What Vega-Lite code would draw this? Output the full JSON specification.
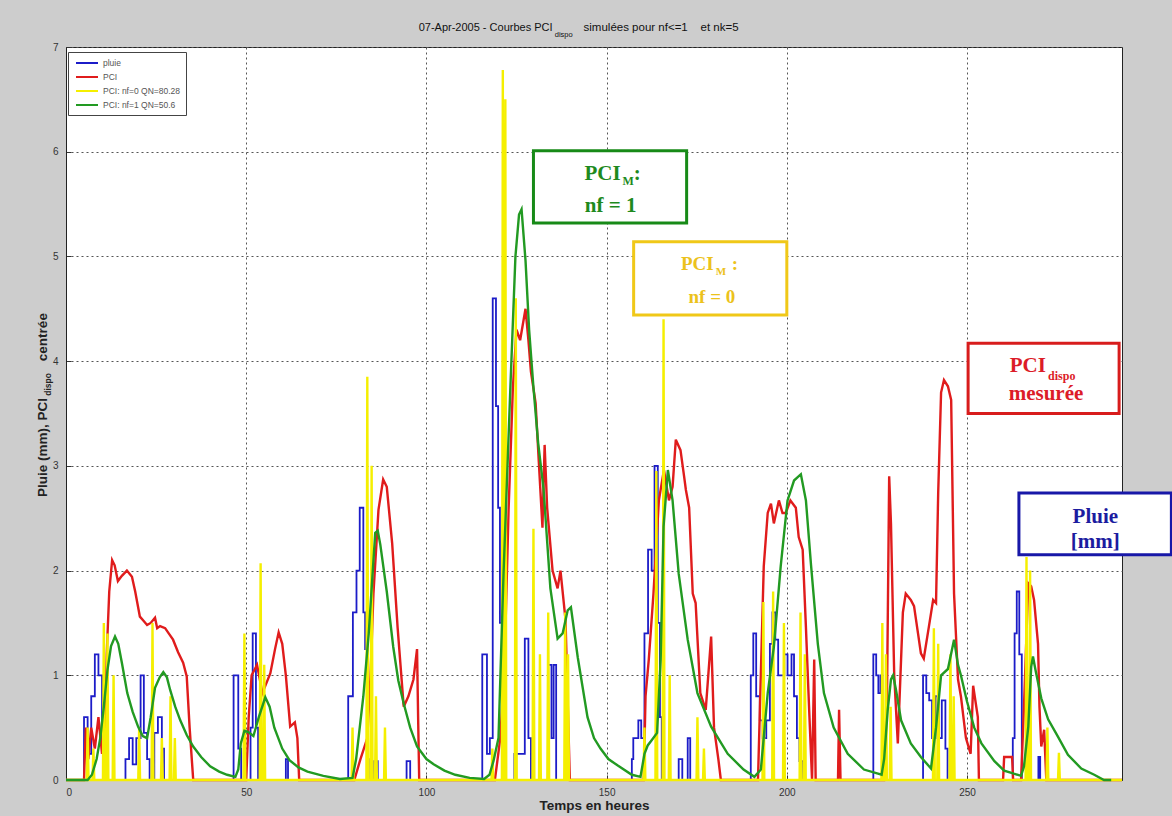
{
"$schema": "https://vega.github.io/schema/vega-lite/v6.json",
"width": 1056, "height": 733,
"autosize": {"type": "none"},
"padding": {"left": 66, "top": 47, "right": 50, "bottom": 36},
"background": "#cdcdcd",
"config": {
  "view": {"fill": "white", "stroke": "#222", "strokeWidth": 1},
  "font": "Liberation Sans"
},
"datasets": {
"pluie": [{"t":0,"v":0},{"t":5,"v":0.6},{"t":6,"v":0.25},{"t":7,"v":0.8},{"t":8,"v":1.2},{"t":9,"v":1.0},{"t":10,"v":0.3},{"t":10.6,"v":0},{"t":16.5,"v":0.2},{"t":17.5,"v":0.4},{"t":18.5,"v":0.15},{"t":19.5,"v":0.4},{"t":20.7,"v":1.0},{"t":21.6,"v":0.45},{"t":22.5,"v":0.2},{"t":23.2,"v":0},{"t":24.5,"v":0.45},{"t":25.5,"v":0.6},{"t":26.6,"v":0.3},{"t":27.2,"v":0},{"t":46.5,"v":1.0},{"t":47.8,"v":0.3},{"t":48.6,"v":0},{"t":51.2,"v":0.5},{"t":51.8,"v":1.4},{"t":52.7,"v":0.5},{"t":53.3,"v":0},{"t":61,"v":0.2},{"t":61.6,"v":0},{"t":78.3,"v":0.8},{"t":79.6,"v":1.6},{"t":80.6,"v":2.0},{"t":81.5,"v":2.6},{"t":82.5,"v":1.6},{"t":83,"v":1.25},{"t":83.5,"v":0.2},{"t":84,"v":0},{"t":85.5,"v":0.18},{"t":86.5,"v":0},{"t":94.5,"v":0.18},{"t":95.5,"v":0},{"t":115.5,"v":1.2},{"t":116.8,"v":0.25},{"t":117.6,"v":0.4},{"t":118.4,"v":4.6},{"t":119.3,"v":3.57},{"t":119.9,"v":2.6},{"t":120.4,"v":1.5},{"t":121,"v":0.2},{"t":122,"v":0},{"t":124.4,"v":0.25},{"t":126,"v":0.25},{"t":127.3,"v":1.35},{"t":128.3,"v":0.4},{"t":129,"v":0},{"t":133.8,"v":1.1},{"t":134.7,"v":0.4},{"t":135.3,"v":1.1},{"t":136,"v":0},{"t":157,"v":0.2},{"t":157.4,"v":0.4},{"t":158.8,"v":0.57},{"t":159.6,"v":0.4},{"t":160.5,"v":1.4},{"t":161.5,"v":2.2},{"t":162.5,"v":2.0},{"t":163.3,"v":3.0},{"t":164.2,"v":1.5},{"t":164.8,"v":0.6},{"t":165.3,"v":0},{"t":170,"v":0.2},{"t":171,"v":0},{"t":172.5,"v":0.4},{"t":173.2,"v":0},{"t":190,"v":1.0},{"t":190.7,"v":1.4},{"t":191.5,"v":0.8},{"t":192.5,"v":0.57},{"t":193.3,"v":0.4},{"t":194.3,"v":0.57},{"t":195.3,"v":1.3},{"t":196,"v":1.6},{"t":196.8,"v":1.34},{"t":197.6,"v":1.0},{"t":199.3,"v":1.2},{"t":200.2,"v":1.0},{"t":201.3,"v":1.2},{"t":202,"v":0.8},{"t":202.8,"v":0.4},{"t":203.5,"v":0.18},{"t":204.5,"v":0},{"t":224,"v":1.2},{"t":224.8,"v":1.0},{"t":225.4,"v":0.83},{"t":226,"v":1.0},{"t":226.5,"v":0},{"t":237.8,"v":1.0},{"t":238.7,"v":0.83},{"t":239.5,"v":0.76},{"t":240.3,"v":0.4},{"t":241.3,"v":0.8},{"t":242.2,"v":0.4},{"t":243,"v":0.76},{"t":244,"v":0.3},{"t":244.6,"v":0},{"t":262.7,"v":0.4},{"t":263.2,"v":1.4},{"t":263.8,"v":1.8},{"t":264.5,"v":1.2},{"t":265.2,"v":0},{"t":269.8,"v":0.22},{"t":270.3,"v":0},{"t":293,"v":0}],
"pci": [{"t":0,"v":0},{"t":5,"v":0},{"t":5.5,"v":0.5},{"t":6.2,"v":0.2},{"t":7,"v":0.5},{"t":8,"v":0.3},{"t":9,"v":0.6},{"t":10,"v":0.25},{"t":10.8,"v":0.4},{"t":11.3,"v":1.2},{"t":12,"v":1.8},{"t":12.8,"v":2.1},{"t":13.5,"v":2.05},{"t":14.4,"v":1.9},{"t":15.5,"v":1.95},{"t":16.9,"v":2.0},{"t":18.3,"v":1.94},{"t":19.2,"v":1.8},{"t":20.5,"v":1.56},{"t":21.5,"v":1.52},{"t":22.5,"v":1.48},{"t":23.5,"v":1.5},{"t":24.7,"v":1.55},{"t":25.3,"v":1.45},{"t":26.1,"v":1.47},{"t":27.5,"v":1.45},{"t":28.5,"v":1.4},{"t":29.7,"v":1.34},{"t":31.1,"v":1.22},{"t":32.5,"v":1.12},{"t":33.5,"v":0.99},{"t":34.3,"v":0.5},{"t":35.3,"v":0},{"t":50,"v":0},{"t":50.7,"v":0.6},{"t":51.5,"v":1.0},{"t":53,"v":1.1},{"t":54.5,"v":0.83},{"t":56.7,"v":1.02},{"t":58,"v":1.25},{"t":59,"v":1.41},{"t":60,"v":1.3},{"t":61,"v":1.0},{"t":62.2,"v":0.51},{"t":63.5,"v":0.55},{"t":64.2,"v":0.4},{"t":64.7,"v":0},{"t":80,"v":0},{"t":81.7,"v":0.2},{"t":83.6,"v":0.4},{"t":84.5,"v":1.0},{"t":85.3,"v":1.78},{"t":86.7,"v":2.58},{"t":88,"v":2.87},{"t":89,"v":2.8},{"t":90.5,"v":2.26},{"t":92,"v":1.46},{"t":93.7,"v":0.7},{"t":95,"v":0.8},{"t":96.4,"v":0.96},{"t":97.4,"v":1.25},{"t":97.7,"v":0.6},{"t":98,"v":0},{"t":119,"v":0},{"t":120.5,"v":0.4},{"t":121.5,"v":1.0},{"t":122,"v":1.53},{"t":122.8,"v":2.58},{"t":124,"v":3.75},{"t":125,"v":4.3},{"t":126,"v":4.2},{"t":127.5,"v":4.5},{"t":128.3,"v":4.2},{"t":129,"v":3.9},{"t":130.3,"v":3.6},{"t":131.2,"v":3.03},{"t":132.2,"v":2.41},{"t":132.8,"v":3.2},{"t":133.5,"v":2.6},{"t":135,"v":2.0},{"t":136.4,"v":1.83},{"t":137.2,"v":2.0},{"t":138.6,"v":1.53},{"t":139.4,"v":0.5},{"t":139.8,"v":0},{"t":160.3,"v":0},{"t":160.8,"v":0.8},{"t":161.7,"v":1.15},{"t":163,"v":1.78},{"t":164.5,"v":2.67},{"t":165.9,"v":2.96},{"t":167.3,"v":2.67},{"t":168.3,"v":2.8},{"t":169.2,"v":3.25},{"t":170.5,"v":3.15},{"t":171.5,"v":2.9},{"t":172,"v":2.77},{"t":172.9,"v":2.6},{"t":173.9,"v":1.78},{"t":174.7,"v":1.69},{"t":176,"v":0.83},{"t":177.5,"v":0.67},{"t":179,"v":1.37},{"t":179.8,"v":0.5},{"t":181,"v":0.2},{"t":181.7,"v":0},{"t":192,"v":0},{"t":193.6,"v":2.04},{"t":194.7,"v":2.55},{"t":195.6,"v":2.64},{"t":196.4,"v":2.45},{"t":197.8,"v":2.67},{"t":198.8,"v":2.55},{"t":199.7,"v":2.55},{"t":201,"v":2.67},{"t":202.5,"v":2.6},{"t":203.3,"v":2.32},{"t":204.4,"v":2.2},{"t":205.3,"v":1.46},{"t":206.2,"v":0.67},{"t":207,"v":0},{"t":207.6,"v":1.15},{"t":208,"v":0},{"t":214.2,"v":0},{"t":214.5,"v":0.67},{"t":214.9,"v":0},{"t":227,"v":0},{"t":227.8,"v":0.8},{"t":228.4,"v":2.9},{"t":228.9,"v":2.45},{"t":229.8,"v":1.0},{"t":230.8,"v":0.35},{"t":231.7,"v":1.15},{"t":232.2,"v":1.6},{"t":233,"v":1.78},{"t":234.4,"v":1.72},{"t":235.3,"v":1.66},{"t":236.4,"v":1.4},{"t":237.2,"v":1.21},{"t":238,"v":1.16},{"t":239.4,"v":1.46},{"t":240.6,"v":1.72},{"t":241.4,"v":1.69},{"t":242,"v":2.74},{"t":242.8,"v":3.7},{"t":243.6,"v":3.82},{"t":244.7,"v":3.76},{"t":245.6,"v":3.63},{"t":246.4,"v":1.78},{"t":247.5,"v":0.96},{"t":248.3,"v":0.8},{"t":249.7,"v":0.4},{"t":251,"v":0.25},{"t":251.7,"v":0.9},{"t":253,"v":0.6},{"t":253.3,"v":0},{"t":260,"v":0},{"t":260.3,"v":0.22},{"t":262.5,"v":0.22},{"t":262.8,"v":0},{"t":265,"v":0},{"t":265.8,"v":0.7},{"t":267,"v":1.88},{"t":267.8,"v":1.85},{"t":268.6,"v":1.72},{"t":269.7,"v":1.3},{"t":270.1,"v":0.7},{"t":270.6,"v":0.32},{"t":271.4,"v":0.48},{"t":272,"v":0},{"t":293,"v":0}],
"nf0": [{"t":0,"v":0},{"t":5.75,"v":0},{"t":6,"v":0.5},{"t":6.25,"v":0},{"t":7.35,"v":0},{"t":7.6,"v":0.3},{"t":7.85,"v":0},{"t":10.25,"v":0},{"t":10.5,"v":1.5},{"t":10.75,"v":0},{"t":11.25,"v":0},{"t":11.5,"v":1.4},{"t":11.75,"v":0},{"t":12.95,"v":0},{"t":13.2,"v":1.0},{"t":13.45,"v":0},{"t":20.05,"v":0},{"t":20.3,"v":0.5},{"t":20.55,"v":0},{"t":23.75,"v":0},{"t":24,"v":1.5},{"t":24.25,"v":0},{"t":26.35,"v":0},{"t":26.6,"v":0.4},{"t":26.85,"v":0},{"t":28.75,"v":0},{"t":29,"v":0.8},{"t":29.25,"v":0},{"t":29.95,"v":0},{"t":30.2,"v":0.4},{"t":30.45,"v":0},{"t":49.25,"v":0},{"t":49.5,"v":1.4},{"t":49.75,"v":0},{"t":53.75,"v":0},{"t":54,"v":2.07},{"t":54.25,"v":0},{"t":54.75,"v":0},{"t":55,"v":1.1},{"t":55.25,"v":0},{"t":79.25,"v":0},{"t":79.5,"v":0.5},{"t":79.75,"v":0},{"t":83.35,"v":0},{"t":83.6,"v":3.85},{"t":83.85,"v":0},{"t":84.55,"v":0},{"t":84.8,"v":3.0},{"t":85.05,"v":0},{"t":85.75,"v":0},{"t":86,"v":0.8},{"t":86.25,"v":0},{"t":88.25,"v":0},{"t":88.5,"v":0.5},{"t":88.75,"v":0},{"t":118.05,"v":0},{"t":118.3,"v":0.3},{"t":118.55,"v":0},{"t":120.95,"v":0},{"t":121.2,"v":6.78},{"t":121.45,"v":0},{"t":121.65,"v":0},{"t":121.9,"v":6.5},{"t":122.15,"v":0},{"t":124.55,"v":0},{"t":124.8,"v":4.6},{"t":125.05,"v":0},{"t":129.45,"v":0},{"t":129.7,"v":2.4},{"t":129.95,"v":0},{"t":131.25,"v":0},{"t":131.5,"v":1.2},{"t":131.75,"v":0},{"t":133.55,"v":0},{"t":133.8,"v":1.6},{"t":134.05,"v":0},{"t":138.25,"v":0},{"t":138.5,"v":1.6},{"t":138.75,"v":0},{"t":139.05,"v":0},{"t":139.3,"v":1.2},{"t":139.55,"v":0},{"t":160.25,"v":0},{"t":160.5,"v":0.5},{"t":160.75,"v":0},{"t":163.55,"v":0},{"t":163.8,"v":2.95},{"t":164.05,"v":0},{"t":165.55,"v":0},{"t":165.8,"v":4.4},{"t":166.05,"v":0},{"t":167.25,"v":0},{"t":167.5,"v":1.0},{"t":167.75,"v":0},{"t":174.95,"v":0},{"t":175.2,"v":0.6},{"t":175.45,"v":0},{"t":176.75,"v":0},{"t":177,"v":0.3},{"t":177.25,"v":0},{"t":193.25,"v":0},{"t":193.5,"v":1.7},{"t":193.75,"v":0},{"t":195.95,"v":0},{"t":196.2,"v":1.8},{"t":196.45,"v":0},{"t":198.95,"v":0},{"t":199.2,"v":1.5},{"t":199.45,"v":0},{"t":203.55,"v":0},{"t":203.8,"v":1.6},{"t":204.05,"v":0},{"t":204.75,"v":0},{"t":205,"v":1.2},{"t":205.25,"v":0},{"t":226.25,"v":0},{"t":226.5,"v":1.5},{"t":226.75,"v":0},{"t":227.25,"v":0},{"t":227.5,"v":1.2},{"t":227.75,"v":0},{"t":228.55,"v":0},{"t":228.8,"v":0.7},{"t":229.05,"v":0},{"t":240.55,"v":0},{"t":240.8,"v":1.45},{"t":241.05,"v":0},{"t":241.75,"v":0},{"t":242,"v":1.3},{"t":242.25,"v":0},{"t":245.15,"v":0},{"t":245.4,"v":1.2},{"t":245.65,"v":0},{"t":246.05,"v":0},{"t":246.3,"v":0.8},{"t":246.55,"v":0},{"t":266.25,"v":0},{"t":266.5,"v":2.13},{"t":266.75,"v":0},{"t":267.25,"v":0},{"t":267.5,"v":2.0},{"t":267.75,"v":0},{"t":272.05,"v":0},{"t":272.3,"v":0.5},{"t":272.55,"v":0},{"t":275.25,"v":0},{"t":275.5,"v":0.26},{"t":275.75,"v":0},{"t":293,"v":0}],
"nf1": [{"t":0,"v":0},{"t":6,"v":0},{"t":7.2,"v":0.05},{"t":8.5,"v":0.2},{"t":9.5,"v":0.4},{"t":10.5,"v":0.7},{"t":11.5,"v":1.05},{"t":12.5,"v":1.28},{"t":13.6,"v":1.37},{"t":14.5,"v":1.3},{"t":15.5,"v":1.12},{"t":17,"v":0.83},{"t":18.5,"v":0.65},{"t":20,"v":0.51},{"t":21.3,"v":0.42},{"t":22.5,"v":0.4},{"t":23.5,"v":0.6},{"t":24.7,"v":0.88},{"t":26,"v":0.98},{"t":27,"v":1.03},{"t":28,"v":0.98},{"t":28.9,"v":0.86},{"t":30.3,"v":0.7},{"t":31.7,"v":0.57},{"t":33.5,"v":0.43},{"t":35.3,"v":0.32},{"t":37.5,"v":0.22},{"t":40,"v":0.13},{"t":42.5,"v":0.08},{"t":44.7,"v":0.05},{"t":47,"v":0.03},{"t":47.8,"v":0.1},{"t":48.5,"v":0.35},{"t":49.5,"v":0.47},{"t":50.5,"v":0.46},{"t":52,"v":0.42},{"t":53.5,"v":0.6},{"t":55.3,"v":0.79},{"t":56.5,"v":0.7},{"t":57.8,"v":0.5},{"t":60,"v":0.3},{"t":62,"v":0.19},{"t":64.5,"v":0.12},{"t":67,"v":0.08},{"t":71.4,"v":0.04},{"t":76,"v":0.01},{"t":79.5,"v":0.02},{"t":80.5,"v":0.2},{"t":82.5,"v":0.8},{"t":84,"v":1.4},{"t":85.8,"v":2.36},{"t":86.5,"v":2.38},{"t":87.2,"v":2.25},{"t":89,"v":1.8},{"t":90.8,"v":1.27},{"t":92.2,"v":0.95},{"t":93.7,"v":0.73},{"t":95.5,"v":0.5},{"t":97.4,"v":0.32},{"t":100,"v":0.2},{"t":102,"v":0.15},{"t":105,"v":0.09},{"t":108,"v":0.05},{"t":112,"v":0.02},{"t":116,"v":0.01},{"t":117.5,"v":0.05},{"t":118.6,"v":0.18},{"t":120,"v":0.4},{"t":121.4,"v":1.97},{"t":123.3,"v":3.75},{"t":124.7,"v":5.0},{"t":125.7,"v":5.4},{"t":126.4,"v":5.45},{"t":127.5,"v":4.96},{"t":128.5,"v":4.3},{"t":129.7,"v":3.75},{"t":131,"v":3.22},{"t":132.5,"v":2.78},{"t":134.4,"v":1.83},{"t":136.4,"v":1.35},{"t":137.8,"v":1.4},{"t":139.2,"v":1.62},{"t":140.1,"v":1.65},{"t":142,"v":1.17},{"t":144.7,"v":0.6},{"t":146.5,"v":0.4},{"t":148.3,"v":0.3},{"t":150.5,"v":0.2},{"t":153,"v":0.14},{"t":157,"v":0.05},{"t":159.4,"v":0.03},{"t":160.5,"v":0.25},{"t":161.4,"v":0.33},{"t":162.5,"v":0.38},{"t":164,"v":0.45},{"t":165,"v":1.15},{"t":165.8,"v":2.42},{"t":167,"v":2.96},{"t":168.3,"v":2.67},{"t":170,"v":1.97},{"t":172.5,"v":1.34},{"t":175.2,"v":0.83},{"t":179,"v":0.51},{"t":183.6,"v":0.25},{"t":188,"v":0.1},{"t":191,"v":0.03},{"t":192.8,"v":0.1},{"t":194.7,"v":0.83},{"t":196.4,"v":1.27},{"t":198.3,"v":2.04},{"t":200.2,"v":2.67},{"t":202,"v":2.86},{"t":203.9,"v":2.92},{"t":205.3,"v":2.67},{"t":206.7,"v":2.06},{"t":208.6,"v":1.3},{"t":210.3,"v":0.83},{"t":213,"v":0.5},{"t":216.9,"v":0.25},{"t":221.4,"v":0.1},{"t":225.3,"v":0.06},{"t":226.3,"v":0.05},{"t":227,"v":0.2},{"t":228,"v":0.67},{"t":228.9,"v":0.96},{"t":229.5,"v":1.0},{"t":230.3,"v":0.86},{"t":231.7,"v":0.57},{"t":234.4,"v":0.35},{"t":237.2,"v":0.22},{"t":240,"v":0.11},{"t":241.4,"v":0.5},{"t":242.8,"v":1.0},{"t":244.7,"v":1.06},{"t":246.4,"v":1.34},{"t":247.5,"v":1.1},{"t":248.3,"v":1.0},{"t":250,"v":0.75},{"t":252,"v":0.5},{"t":254,"v":0.35},{"t":257.6,"v":0.18},{"t":260.3,"v":0.09},{"t":263,"v":0.06},{"t":265,"v":0.04},{"t":265.8,"v":0.13},{"t":267,"v":0.51},{"t":267.8,"v":1.08},{"t":268.3,"v":1.18},{"t":269,"v":1.05},{"t":270.6,"v":0.78},{"t":272.5,"v":0.58},{"t":275.3,"v":0.41},{"t":278,"v":0.24},{"t":281.7,"v":0.11},{"t":285.3,"v":0.05},{"t":288,"v":0.0},{"t":290,"v":0}]
},
"layer": [
  {"data": {"name": "pluie"}, "mark": {"type": "line", "interpolate": "step-after", "strokeWidth": 1.8},
   "encoding": {
     "x": {"field": "t", "type": "quantitative", "title": "Temps en heures", "scale": {"domain": [0, 293], "nice": false, "zero": false},
        "axis": {"values": [0,50,100,150,200,250], "format": "d", "grid": true, "gridDash": [2,3], "gridColor": "#555", "tickSize": -5, "tickColor": "#333", "domainColor": "#222", "labelFontSize": 10, "labelColor": "#333", "labelPadding": 12, "titleFontSize": 13.5, "titleFontWeight": "bold", "titleColor": "#222", "titlePadding": 1}},
     "y": {"field": "v", "type": "quantitative", "title": null, "scale": {"domain": [0, 7], "nice": false},
        "axis": {"values": [0,1,2,3,4,5,6,7], "format": "d", "grid": true, "gridDash": [2,3], "gridColor": "#555", "tickSize": -5, "tickColor": "#333", "domainColor": "#222", "labelFontSize": 10, "labelColor": "#333", "labelPadding": 13}},
     "color": {"datum": "pluie", "type": "nominal",
     "scale": {"domain": ["pluie", "PCI", "PCI: nf=0 QN=80.28", "PCI: nf=1 QN=50.6"], "range": ["#1c1cc8", "#e01c1c", "#f5ef00", "#229a22"]},
     "legend": {"title": null, "orient": "none", "legendX": 2, "legendY": 5, "fillColor": "white", "strokeColor": "#444", "padding": 5, "symbolType": "M-2.2,0H2.2", "symbolSize": 100, "symbolStrokeWidth": 2, "symbolOffset": 8, "labelFontSize": 8.5, "labelColor": "#555", "rowPadding": 3, "labelOffset": 10}}}},
  {"data": {"name": "pci"}, "mark": {"type": "line", "strokeWidth": 2.4},
   "encoding": {"x": {"field": "t", "type": "quantitative", "title": "Temps en heures", "scale": {"domain": [0, 293], "nice": false, "zero": false}},
                "y": {"field": "v", "type": "quantitative", "title": null, "scale": {"domain": [0, 7], "nice": false}},
                "color": {"datum": "PCI", "type": "nominal"}}},
  {"data": {"name": "nf0"}, "mark": {"type": "line", "strokeWidth": 2.4},
   "encoding": {"x": {"field": "t", "type": "quantitative", "title": "Temps en heures", "scale": {"domain": [0, 293], "nice": false, "zero": false}},
                "y": {"field": "v", "type": "quantitative", "title": null, "scale": {"domain": [0, 7], "nice": false}},
                "color": {"datum": "PCI: nf=0 QN=80.28", "type": "nominal"}}},
  {"data": {"name": "nf1"}, "mark": {"type": "line", "strokeWidth": 2.4},
   "encoding": {"x": {"field": "t", "type": "quantitative", "title": "Temps en heures", "scale": {"domain": [0, 293], "nice": false, "zero": false}},
                "y": {"field": "v", "type": "quantitative", "title": null, "scale": {"domain": [0, 7], "nice": false}},
                "color": {"datum": "PCI: nf=1 QN=50.6", "type": "nominal"}}},

  {"data": {"values": [{}]}, "mark": {"type": "rect", "fill": "white", "stroke": "#178a17", "strokeWidth": 3, "clip": false},
   "encoding": {"x": {"datum": 129.7}, "x2": {"datum": 172.2}, "y": {"datum": 6.01}, "y2": {"datum": 5.32}}},
  {"data": {"values": [{}]}, "mark": {"type": "rect", "fill": "white", "stroke": "#f0c818", "strokeWidth": 3, "clip": false},
   "encoding": {"x": {"datum": 157.5}, "x2": {"datum": 200}, "y": {"datum": 5.14}, "y2": {"datum": 4.44}}},
  {"data": {"values": [{}]}, "mark": {"type": "rect", "fill": "white", "stroke": "#d81c1c", "strokeWidth": 3, "clip": false},
   "encoding": {"x": {"datum": 250.3}, "x2": {"datum": 292.2}, "y": {"datum": 4.17}, "y2": {"datum": 3.5}}},
  {"data": {"values": [{}]}, "mark": {"type": "rect", "fill": "white", "stroke": "#1818a8", "strokeWidth": 3, "clip": false},
   "encoding": {"x": {"datum": 264.4}, "x2": {"datum": 306.7}, "y": {"datum": 2.74}, "y2": {"datum": 2.15}}},

  {"data": {"values": [{}]}, "mark": {"type": "text", "text": "PCI", "align": "right", "baseline": "alphabetic", "font": "Liberation Serif", "fontWeight": "bold", "fontSize": 21, "color": "#1e8a1e"},
   "encoding": {"x": {"datum": 153.9}, "y": {"datum": 5.731}}},
  {"data": {"values": [{}]}, "mark": {"type": "text", "text": "M", "align": "left", "baseline": "alphabetic", "font": "Liberation Serif", "fontWeight": "bold", "fontSize": 12, "color": "#1e8a1e"},
   "encoding": {"x": {"datum": 154.4}, "y": {"datum": 5.683}}},
  {"data": {"values": [{}]}, "mark": {"type": "text", "text": ":", "align": "left", "baseline": "alphabetic", "font": "Liberation Serif", "fontWeight": "bold", "fontSize": 21, "color": "#1e8a1e"},
   "encoding": {"x": {"datum": 157.5}, "y": {"datum": 5.731}}},
  {"data": {"values": [{}]}, "mark": {"type": "text", "text": "nf = 1", "align": "center", "baseline": "alphabetic", "font": "Liberation Serif", "fontWeight": "bold", "fontSize": 21, "color": "#1e8a1e"},
   "encoding": {"x": {"datum": 151.1}, "y": {"datum": 5.425}}},

  {"data": {"values": [{}]}, "mark": {"type": "text", "text": "PCI", "align": "right", "baseline": "alphabetic", "font": "Liberation Serif", "fontWeight": "bold", "fontSize": 19, "color": "#ecc21c"},
   "encoding": {"x": {"datum": 179.7}, "y": {"datum": 4.871}}},
  {"data": {"values": [{}]}, "mark": {"type": "text", "text": "M", "align": "left", "baseline": "alphabetic", "font": "Liberation Serif", "fontWeight": "bold", "fontSize": 11, "color": "#ecc21c"},
   "encoding": {"x": {"datum": 180.3}, "y": {"datum": 4.823}}},
  {"data": {"values": [{}]}, "mark": {"type": "text", "text": ":", "align": "left", "baseline": "alphabetic", "font": "Liberation Serif", "fontWeight": "bold", "fontSize": 19, "color": "#ecc21c"},
   "encoding": {"x": {"datum": 184.7}, "y": {"datum": 4.871}}},
  {"data": {"values": [{}]}, "mark": {"type": "text", "text": "nf = 0", "align": "center", "baseline": "alphabetic", "font": "Liberation Serif", "fontWeight": "bold", "fontSize": 19, "color": "#ecc21c"},
   "encoding": {"x": {"datum": 179.2}, "y": {"datum": 4.556}}},

  {"data": {"values": [{}]}, "mark": {"type": "text", "text": "PCI", "align": "right", "baseline": "alphabetic", "font": "Liberation Serif", "fontWeight": "bold", "fontSize": 21, "color": "#dc1c28"},
   "encoding": {"x": {"datum": 271.9}, "y": {"datum": 3.897}}},
  {"data": {"values": [{}]}, "mark": {"type": "text", "text": "dispo", "align": "left", "baseline": "alphabetic", "font": "Liberation Serif", "fontWeight": "bold", "fontSize": 12, "color": "#dc1c28"},
   "encoding": {"x": {"datum": 272.5}, "y": {"datum": 3.82}}},
  {"data": {"values": [{}]}, "mark": {"type": "text", "text": "mesurée", "align": "center", "baseline": "alphabetic", "font": "Liberation Serif", "fontWeight": "bold", "fontSize": 21, "color": "#dc1c28"},
   "encoding": {"x": {"datum": 271.9}, "y": {"datum": 3.629}}},

  {"data": {"values": [{}]}, "mark": {"type": "text", "text": "Pluie", "align": "center", "baseline": "alphabetic", "font": "Liberation Serif", "fontWeight": "bold", "fontSize": 21, "color": "#1c1ca0"},
   "encoding": {"x": {"datum": 285.6}, "y": {"datum": 2.455}}},
  {"data": {"values": [{}]}, "mark": {"type": "text", "text": "[mm]", "align": "center", "baseline": "alphabetic", "font": "Liberation Serif", "fontWeight": "bold", "fontSize": 21, "color": "#1c1ca0"},
   "encoding": {"x": {"datum": 285.6}, "y": {"datum": 2.216}}},

  {"data": {"values": [{}]}, "mark": {"type": "text", "text": "07-Apr-2005 - Courbes PCI", "align": "right", "baseline": "alphabetic", "fontSize": 11, "color": "#111"},
   "encoding": {"x": {"datum": 135}, "y": {"datum": 7.154}}},
  {"data": {"values": [{}]}, "mark": {"type": "text", "text": "dispo", "align": "left", "baseline": "alphabetic", "fontSize": 7.5, "color": "#111"},
   "encoding": {"x": {"datum": 135.6}, "y": {"datum": 7.1}}},
  {"data": {"values": [{}]}, "mark": {"type": "text", "text": "simulées pour nf<=1\u00a0\u00a0\u00a0\u00a0et nk=5", "align": "left", "baseline": "alphabetic", "fontSize": 11.5, "color": "#111"},
   "encoding": {"x": {"datum": 143.6}, "y": {"datum": 7.154}}},

  {"data": {"values": [{}]}, "mark": {"type": "text", "text": "Pluie (mm), PCI", "angle": 270, "align": "right", "baseline": "middle", "fontSize": 13.5, "fontWeight": "bold", "color": "#222"},
   "encoding": {"x": {"datum": -6.5}, "y": {"datum": 3.648}}},
  {"data": {"values": [{}]}, "mark": {"type": "text", "text": "dispo", "angle": 270, "align": "left", "baseline": "middle", "fontSize": 8.5, "fontWeight": "bold", "color": "#222"},
   "encoding": {"x": {"datum": -5.1}, "y": {"datum": 3.67}}},
  {"data": {"values": [{}]}, "mark": {"type": "text", "text": "centrée", "angle": 270, "align": "left", "baseline": "middle", "fontSize": 13.5, "fontWeight": "bold", "color": "#222"},
   "encoding": {"x": {"datum": -6.5}, "y": {"datum": 4.0}}}
]
}
